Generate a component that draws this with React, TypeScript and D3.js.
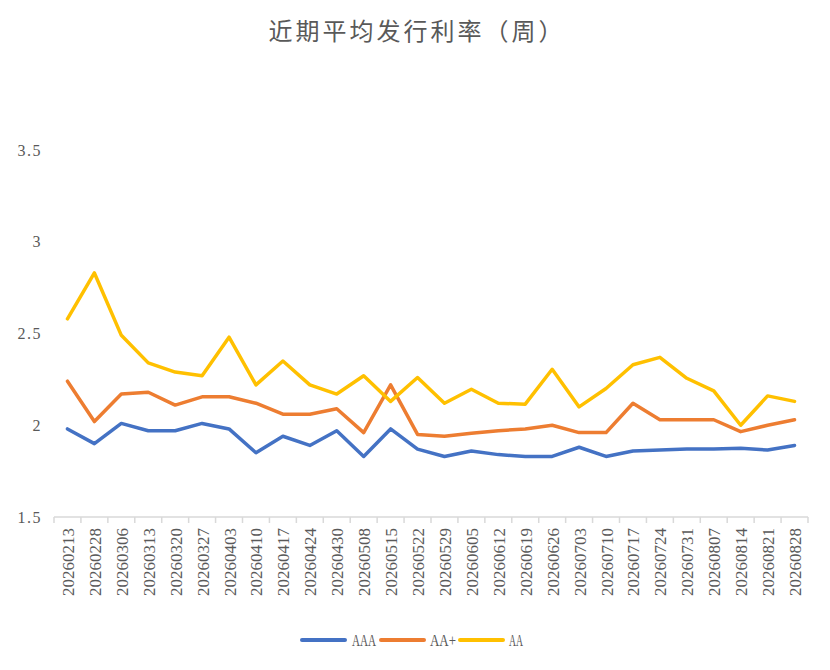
import { line, scaleBand, scaleLinear } from "d3";

// Weekly average issuance rates by rating
const dates = [
    "20260213", "20260228", "20260306", "20260313", "20260320", "20260327", "20260403",
    "20260410", "20260417", "20260424", "20260430", "20260508", "20260515", "20260522",
    "20260529", "20260605", "20260612", "20260619", "20260626", "20260703", "20260710",
    "20260717", "20260724", "20260731", "20260807", "20260814", "20260821", "20260828",
];

const aaa = [
    1.98, 1.9, 2.01, 1.97, 1.97, 2.01, 1.98, 1.85, 1.94, 1.89, 1.97, 1.83, 1.98, 1.87,
    1.83, 1.86, 1.84, 1.83, 1.83, 1.88, 1.83, 1.86, 1.865, 1.87, 1.87, 1.875, 1.865, 1.89,
];
const aaPlus = [
    2.24, 2.02, 2.17, 2.18, 2.11, 2.155, 2.155, 2.12, 2.06, 2.06, 2.09, 1.96, 2.22, 1.95,
    1.94, 1.956, 1.97, 1.98, 2.0, 1.96, 1.96, 2.12, 2.03, 2.03, 2.03, 1.965, 2.0, 2.03,
];
const aa = [
    2.58, 2.83, 2.49, 2.34, 2.29, 2.27, 2.48, 2.22, 2.35, 2.22, 2.17, 2.27, 2.13, 2.26,
    2.12, 2.196, 2.12, 2.115, 2.305, 2.1, 2.2, 2.33, 2.37, 2.256, 2.187, 2.0, 2.16, 2.13,
];

const yTicks = [1.5, 2, 2.5, 3, 3.5];

const series = [
    { name: "AAA", values: aaa, color: "#4472C4" },
    { name: "AA+", values: aaPlus, color: "#ED7D31" },
    { name: "AA", values: aa, color: "#FFC000" },
];

export default function App() {
    const width = 830;
    const height = 670;
    const plot = { left: 54, right: 808, top: 150, bottom: 517 };

    const x = scaleBand<string>().domain(dates).range([plot.left, plot.right]);
    const y = scaleLinear().domain([1.5, 3.5]).range([plot.bottom, plot.top]);
    const cx = (d: string) => (x(d) ?? 0) + x.bandwidth() / 2;

    const path = line<number>()
        .x((_, i) => cx(dates[i]))
        .y((v) => y(v));

    const labelFont = "'Liberation Serif', 'DejaVu Serif', serif";
    const textColor = "#595959";

    // legend layout
    const legendY = 640;
    const legendItems = [
        { x1: 302, x2: 345, tx: 352, w: 24 },
        { x1: 381, x2: 424, tx: 430, w: 26 },
        { x1: 460, x2: 503, tx: 509, w: 14 },
    ];

    return (
        <>
            <style>{"body{margin:0}"}</style>
            <svg width={width} height={height} viewBox={`0 0 ${width} ${height}`} style={{ display: "block", background: "#fff" }}>
                {/* Title */}
                <text
                    x={width / 2 + 2}
                    y={40}
                    textAnchor="middle"
                    fontSize={24}
                    fill={textColor}
                    fontFamily="'Noto Sans CJK SC', sans-serif"
                    style={{ letterSpacing: "3px" }}
                >
                    近期平均发行利率（周）
                </text>

                {/* Y labels */}
                {yTicks.map((t) => (
                    <text
                        key={t}
                        x={42}
                        y={y(t)}
                        textAnchor="end"
                        dominantBaseline="central"
                        fontSize={16}
                        fill={textColor}
                        fontFamily={labelFont}
                        style={{ letterSpacing: "1.5px" }}
                    >
                        {t}
                    </text>
                ))}

                {/* X axis */}
                <line x1={plot.left} x2={plot.right} y1={plot.bottom} y2={plot.bottom} stroke="#D9D9D9" strokeWidth={1.5} />
                {dates.map((d) => (
                    <line
                        key={`t${d}`}
                        x1={x(d)}
                        x2={x(d)}
                        y1={plot.bottom}
                        y2={plot.bottom + 6}
                        stroke="#D9D9D9"
                        strokeWidth={1.5}
                    />
                ))}
                <line x1={plot.right} x2={plot.right} y1={plot.bottom} y2={plot.bottom + 6} stroke="#D9D9D9" strokeWidth={1.5} />
                {dates.map((d) => (
                    <text
                        key={`l${d}`}
                        transform={`translate(${cx(d) + 1},${plot.bottom + 11}) rotate(-90)`}
                        textAnchor="end"
                        dominantBaseline="central"
                        fontSize={17}
                        fill={textColor}
                        fontFamily={labelFont}
                    >
                        {d}
                    </text>
                ))}

                {/* Lines */}
                {series.map((s) => (
                    <path
                        key={s.name}
                        d={path(s.values) ?? ""}
                        fill="none"
                        stroke={s.color}
                        strokeWidth={3.5}
                        strokeLinejoin="round"
                        strokeLinecap="round"
                    />
                ))}

                {/* Legend */}
                {series.map((s, i) => (
                    <g key={`lg${s.name}`}>
                        <line
                            x1={legendItems[i].x1}
                            x2={legendItems[i].x2}
                            y1={legendY}
                            y2={legendY}
                            stroke={s.color}
                            strokeWidth={4}
                            strokeLinecap="round"
                        />
                        <text
                            x={legendItems[i].tx}
                            y={legendY}
                            dominantBaseline="central"
                            fontSize={16}
                            fill={textColor}
                            fontFamily={labelFont}
                            textLength={legendItems[i].w}
                            lengthAdjust="spacingAndGlyphs"
                        >
                            {s.name}
                        </text>
                    </g>
                ))}
            </svg>
        </>
    );
}
